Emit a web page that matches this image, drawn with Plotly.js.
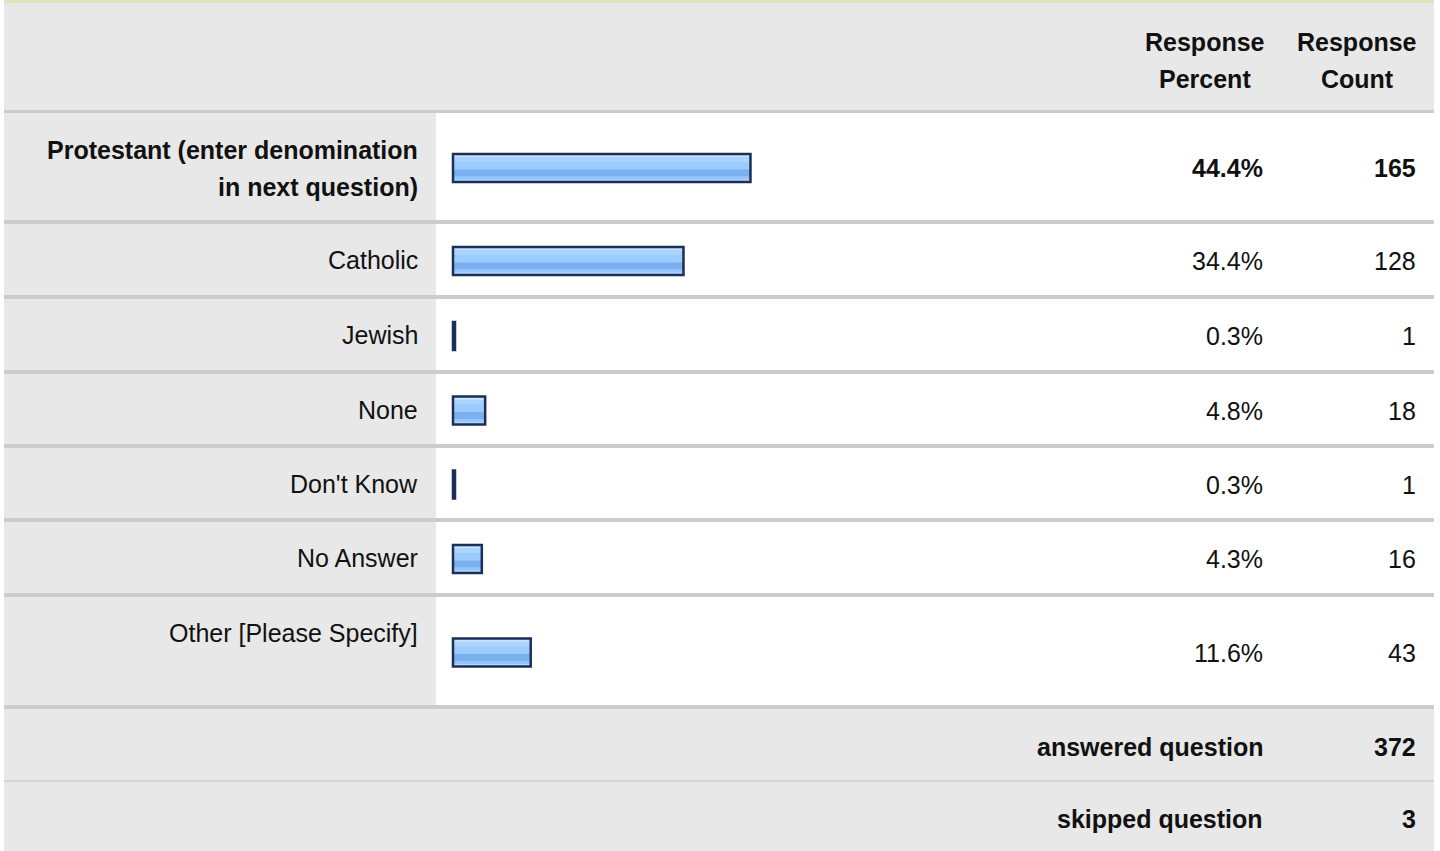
<!DOCTYPE html>
<html>
<head>
<meta charset="utf-8">
<script src="https://cdn.plot.ly/plotly-3.0.1.min.js"></script>
<style>
  html, body { margin: 0; padding: 0; background: #ffffff; }
  #chart { width: 1440px; height: 851px; }
</style>
</head>
<body>
<div id="chart"></div>
<script>
// ---------------- DATA ----------------
const categories = [
  'Protestant (enter denomination<br>in next question)',
  'Catholic',
  'Jewish',
  'None',
  "Don't Know",
  'No Answer',
  'Other [Please Specify]'
];
const responsePercent = [44.4, 34.4, 0.3, 4.8, 0.3, 4.3, 11.6];
const responseCount = [165, 128, 1, 18, 1, 16, 43];
const headerPercent = ['Response', 'Percent'];
const headerCount = ['Response', 'Count'];
const summaryLabels = ['answered question', 'skipped question'];
const summaryCounts = [372, 3];

// ---------------- LAYOUT CONSTANTS ----------------
const W = 1440, H = 851;
const X0 = 4, X1 = 1434, LABEL_END = 436;
const LABEL_RIGHT = 420, PCT_RIGHT = 1265, CNT_RIGHT = 1418;
const PCT_CENTER = 1205, CNT_CENTER = 1357;
const HEADER_TOP = 3, HEADER_H = 107, HEADER_SEP = 3;
const ROW_HEIGHTS = [107, 71, 71, 70, 70, 71, 108];
const ROW_SEP = 4;
const FOOT_HEIGHTS = [71, 69];
const FOOT_SEP = 2;
const PX_PER_PCT = 6.7, ZERO_PX = 453;
const BAR_T = 28;
const FONT = 'Liberation Sans, Arial, Helvetica, sans-serif';
const FS = 25;
const TXT = '#111111';
const GRAY = '#e8e8e8', SEP = '#cccccc';

const px = v => v / W;
const shapes = [];
const annotations = [];

function rect(x0, x1, y0, y1, color) {
  shapes.push({type: 'rect', xref: 'paper', yref: 'y', x0: px(x0), x1: px(x1), y0: y0, y1: y1,
    fillcolor: color, line: {width: 0}, layer: 'below'});
}
function text(str, x, y, anchor, bold) {
  annotations.push({xref: 'paper', yref: 'y', x: px(x), y: y, text: bold ? '<b>' + str + '</b>' : str,
    xanchor: anchor, yanchor: 'middle', showarrow: false,
    font: {family: FONT, size: FS, color: TXT}});
}

// top accent line
rect(X0, X1, 0, HEADER_TOP, '#dce6bd');
// header
rect(X0, X1, HEADER_TOP, HEADER_TOP + HEADER_H, GRAY);
rect(X0, X1, HEADER_TOP + HEADER_H, HEADER_TOP + HEADER_H + HEADER_SEP, SEP);
headerPercent.forEach((s, i) => text(s, PCT_CENTER, 42 + i * 37, 'center', true));
headerCount.forEach((s, i) => text(s, CNT_CENTER, 42 + i * 37, 'center', true));

// data rows
let yTop = HEADER_TOP + HEADER_H + HEADER_SEP;
const barCenters = [];
const maxIdx = responsePercent.indexOf(Math.max(...responsePercent));
categories.forEach((cat, i) => {
  const h = ROW_HEIGHTS[i];
  rect(X0, LABEL_END, yTop, yTop + h, GRAY);
  rect(LABEL_END, X1, yTop, yTop + h, '#ffffff');
  rect(X0, X1, yTop + h, yTop + h + ROW_SEP, SEP);
  const c = yTop + h / 2 + 1.5;
  barCenters.push(c);
  const bold = i === maxIdx;
  const lines = cat.split('<br>');
  lines.forEach((ln, j) => {
    const y = lines.length > 1 ? yTop + 37 + j * 37 : yTop + 35.5;
    text(ln, LABEL_RIGHT, y, 'right', bold);
  });
  text(responsePercent[i].toFixed(1) + '%', PCT_RIGHT, c, 'right', bold);
  text(String(responseCount[i]), CNT_RIGHT, c, 'right', bold);
  yTop += h + ROW_SEP;
});

// footer rows
summaryLabels.forEach((lab, i) => {
  const h = FOOT_HEIGHTS[i];
  rect(X0, X1, yTop, yTop + h, GRAY);
  const c = yTop + h / 2 + 2;
  text(lab, PCT_RIGHT, c, 'right', true);
  text(String(summaryCounts[i]), CNT_RIGHT, c, 'right', true);
  yTop += h;
  if (i < summaryLabels.length - 1) {
    rect(X0, X1, yTop, yTop + FOOT_SEP, '#d4d4d4');
    yTop += FOOT_SEP;
  }
});

// ---------------- BARS (striped glossy look) ----------------
const stripes = [
  [0, 28, '#9ccbff'],
  [1, 3.5, '#c3e0fd'],
  [3.5, 8, '#aad3ff'],
  [15.5, 22.5, '#7bb0ef'],
  [22.5, 25.5, '#94c6fd'],
  [25.5, 27, '#b5d8ff']
];
const traces = stripes.map(([a, b, col]) => ({
  type: 'bar', orientation: 'h',
  x: responsePercent, y: barCenters,
  offset: -BAR_T / 2 + a, width: b - a,
  marker: {color: col, line: {width: 0}},
  hoverinfo: 'skip', showlegend: false
}));
traces.push({
  type: 'bar', orientation: 'h',
  x: responsePercent, y: barCenters,
  offset: -BAR_T / 2, width: BAR_T,
  marker: {color: 'rgba(0,0,0,0)', line: {width: 2.5, color: '#1c2f57'}},
  hoverinfo: 'skip', showlegend: false
});

const layout = {
  width: W, height: H,
  margin: {l: 0, r: 0, t: 0, b: 0, pad: 0},
  paper_bgcolor: '#ffffff', plot_bgcolor: 'rgba(0,0,0,0)',
  barmode: 'overlay',
  xaxis: {domain: [0, 1], range: [-ZERO_PX / PX_PER_PCT, (W - ZERO_PX) / PX_PER_PCT],
    visible: false, fixedrange: true},
  yaxis: {domain: [0, 1], range: [H, 0], visible: false, fixedrange: true},
  shapes: shapes,
  annotations: annotations,
  showlegend: false
};

Plotly.newPlot('chart', traces, layout, {displayModeBar: false, staticPlot: true});
</script>
</body>
</html>
